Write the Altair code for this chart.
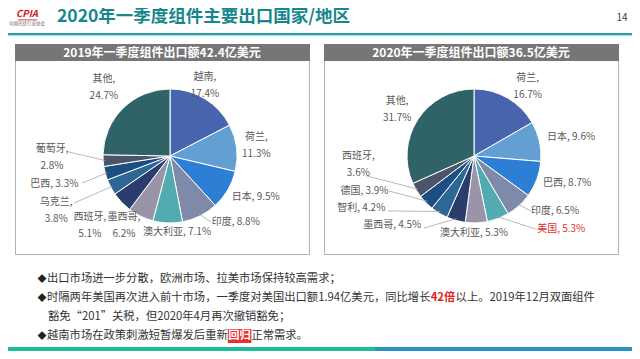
import altair as alt
import pandas as pd

# ---------------- data ----------------
PAGE_TITLE = "2020年一季度组件主要出口国家/地区"
PAGE_NUMBER = "14"
LOGO_TEXT = "CPIA"
LOGO_SUB = "中国光伏行业协会"

TITLE_2019 = "2019年一季度组件出口额42.4亿美元"
NAMES_2019 = ["越南", "荷兰", "日本", "印度", "澳大利亚", "墨西哥", "西班牙", "乌克兰", "巴西", "葡萄牙", "其他"]
VALUES_2019 = [17.4, 11.3, 9.5, 8.8, 7.1, 6.2, 5.1, 3.8, 3.3, 2.8, 24.7]

TITLE_2020 = "2020年一季度组件出口额36.5亿美元"
NAMES_2020 = ["荷兰", "日本", "巴西", "印度", "美国", "澳大利亚", "墨西哥", "智利", "德国", "西班牙", "其他"]
VALUES_2020 = [16.7, 9.6, 8.7, 6.5, 5.3, 5.3, 4.5, 4.2, 3.9, 3.6, 31.7]
HIGHLIGHT_NAME = "美国"

BULLET_1 = "出口市场进一步分散，欧洲市场、拉美市场保持较高需求；"
BULLET_2A = "时隔两年美国再次进入前十市场，一季度对美国出口额1.94亿美元，同比增长"
BULLET_2B = "42倍"
BULLET_2C = "以上。2019年12月双面组件"
BULLET_2D = "豁免“201”关税，但2020年4月再次撤销豁免；"
BULLET_3A = "越南市场在政策刺激短暂爆发后重新"
BULLET_3B = "回归"
BULLET_3C = "正常需求。"

# ---------------- layout / style ----------------
OFF = 8                      # page margin: reference pixel -> chart pixel
W, H = 640 - 2 * OFF, 359 - 2 * OFF
FONT = "Noto Sans CJK SC"
PALETTE = ["#4764ad", "#649fd4", "#2c7fd5", "#7e8aa8", "#52abb0", "#9a94a8",
           "#2b3d6d", "#2d6796", "#1d4e82", "#4b5468", "#2f6367"]
PIE_RADIUS = 67
TEXT_FS = 11.3
LABEL_LH = 17


def P(v):
    return v - OFF


# label nudges: (angle offset from slice middle in degrees, distance from centre, wrap)
LAB_2019 = [(-5.1, 79, 1), (0, 87, 1), (-4.9, 95, 0), (-18.4, 93, 0), (-7.3, 76, 0), (7.8, 83, 1),
            (2.9, 106, 1), (2.3, 126, 1), (1.3, 119, 0), (3, 118, 1), (0.4, 95, 1)]
LEAD_2019 = [None, None, None, (-5.2, 77.7), None, None, None, (1.6, 106.9), (-2.2, 92), (6.2, 101.1), None]
LAB_2020 = [(7.5, 88, 1), (1.5, 99, 0), (-4.1, 97, 0), (-13.5, 98, 0), (-28.9, 114, 0), (2, 77, 0),
            (34.2, 107, 0), (34, 124, 0), (26.4, 115, 0), (26.2, 116, 1), (-1.5, 90, 1)]
LEAD_2020 = [None, None, None, (-3.7, 79.2), (-19.2, 95.8), None, (19.1, 87.7), (26.1, 102),
             (21.7, 91.9), (20, 108.9), None]

ONE = pd.DataFrame({"k": [0]})


def est_w(s, fs):
    w = 0.0
    for ch in s:
        if ord(ch) > 0x2E80 or ch in "“”":
            w += 1.0
        elif ch.isdigit():
            w += 0.56
        elif ch == ".":
            w += 0.27
        else:
            w += 0.5
    return w * fs


def rect(x1, y1, x2, y2, **kw):
    return alt.Chart(ONE).mark_rect(**kw).encode(
        x=alt.value(P(x1)), x2=alt.value(P(x2)), y=alt.value(P(y1)), y2=alt.value(P(y2)))


def text(s, x, y, **kw):
    kw.setdefault("font", FONT)
    kw.setdefault("baseline", "middle")
    return alt.Chart(ONE).mark_text(**kw).encode(
        x=alt.value(P(x)), y=alt.value(P(y)), text=alt.value(s))


def pie_layers(names, values, center, lab, lead):
    cx, cy = P(center[0]), P(center[1])
    df = pd.DataFrame({"name": names, "value": values, "idx": list(range(len(names)))})
    df["label"] = [f"{n},{chr(10) if l[2] else ' '}{v:.1f}%" for n, v, l in zip(names, values, lab)]
    df["lda"] = [l[0] for l in lab]
    df["ldr"] = [l[1] for l in lab]
    df["wrap"] = [l[2] for l in lab]
    df["eda"] = [e[0] if e else 0 for e in lead]
    df["edr"] = [e[1] if e else 0 for e in lead]
    base = alt.Chart(df)
    arcs = base.mark_arc(outerRadius=PIE_RADIUS, stroke="white", strokeWidth=1).encode(
        theta=alt.Theta("value:Q", stack=True),
        color=alt.Color("idx:N", scale=alt.Scale(domain=list(range(11)), range=PALETTE), legend=None),
        order=alt.Order("idx:Q", sort="ascending"),
        x=alt.value(cx), y=alt.value(cy),
    )
    geo = base.transform_window(
        cum="sum(value)", sort=[alt.SortField("idx", order="ascending")], frame=[None, 0]
    ).transform_joinaggregate(total="sum(value)").transform_calculate(
        mid="(datum.cum - datum.value / 2) / datum.total * 2 * PI"
    ).transform_calculate(
        lx=f"{cx} + datum.ldr * sin(datum.mid + datum.lda * PI / 180)",
        ly=f"{cy} - datum.ldr * cos(datum.mid + datum.lda * PI / 180) - datum.wrap * {LABEL_LH / 2}",
        sx=f"{cx} + {PIE_RADIUS - 2} * sin(datum.mid)",
        sy=f"{cy} - {PIE_RADIUS - 2} * cos(datum.mid)",
        ex=f"{cx} + datum.edr * sin(datum.mid + datum.eda * PI / 180)",
        ey=f"{cy} - datum.edr * cos(datum.mid + datum.eda * PI / 180)",
    )
    leaders = geo.transform_filter("datum.edr > 0").mark_rule(color="#a6a6a6", strokeWidth=0.8).encode(
        x=alt.X("sx:Q", scale=None, axis=None), y=alt.Y("sy:Q", scale=None, axis=None),
        x2="ex:Q", y2="ey:Q")
    labels = geo.mark_text(font=FONT, fontSize=10, lineBreak="\n", lineHeight=LABEL_LH,
                           baseline="middle", align="center").encode(
        x=alt.X("lx:Q", scale=None, axis=None), y=alt.Y("ly:Q", scale=None, axis=None),
        text="label:N",
        color=alt.condition(alt.datum.name == HIGHLIGHT_NAME, alt.value("#e0302c"), alt.value("#595959")))
    return [arcs, leaders, labels]


layers = []
# header
layers.append(text(LOGO_TEXT, 27, 14, fontSize=9.5, fontWeight="bold", fontStyle="italic", color="#c8161d", align="center"))
layers.append(rect(18, 19.5, 37, 20.3, color="#c8161d"))
layers.append(text(LOGO_SUB, 27, 23.5, fontSize=4.5, color="#666666", align="center"))
layers.append(text(PAGE_TITLE, 57, 17, fontSize=17.5, fontWeight="bold", color="#17878e", align="left"))
layers.append(text(PAGE_NUMBER, 622, 18, fontSize=10, color="#404040", align="center"))
layers.append(rect(0, 33, 640, 35.5, color="#2b9ea3"))
layers.append(rect(0, 35.5, 640, 36.5, color="#d2f1f4"))

# boxes
for (x1, x2, ttl) in [(15, 309, TITLE_2019), (324, 618, TITLE_2020)]:
    layers.append(rect(x1 + 0.5, 44.5, x2 + 0.5, 254.5, fillOpacity=0, stroke="#aab4b8", strokeWidth=1))
    layers.append(rect(x1, 44, x2 + 1, 61, color="#767676"))
    layers.append(text(ttl, (x1 + x2) / 2, 52.5, fontSize=12, fontWeight="bold", color="white", align="center"))

layers += pie_layers(NAMES_2019, VALUES_2019, (170, 156), LAB_2019, LEAD_2019)
layers += pie_layers(NAMES_2020, VALUES_2020, (474, 156), LAB_2020, LEAD_2020)

# bullets
TX = 47
BX = 42
for y in (279, 298, 336):
    layers.append(text("◆", BX, y, fontSize=9, color="#222222", align="center"))
layers.append(text(BULLET_1, TX, 279, fontSize=TEXT_FS, color="#333333", align="left"))
x = TX
layers.append(text(BULLET_2A, x, 298, fontSize=TEXT_FS, color="#333333", align="left"))
x += est_w(BULLET_2A, TEXT_FS)
layers.append(text(BULLET_2B, x, 298, fontSize=TEXT_FS, fontWeight="bold", color="#e02420", align="left"))
x += est_w(BULLET_2B, TEXT_FS) + 1
layers.append(text(BULLET_2C, x, 298, fontSize=TEXT_FS, color="#333333", align="left"))
layers.append(text(BULLET_2D, TX + 1, 317, fontSize=TEXT_FS, color="#333333", align="left"))
x = TX
layers.append(text(BULLET_3A, x, 336, fontSize=TEXT_FS, color="#333333", align="left"))
x += est_w(BULLET_3A, TEXT_FS)
wb = est_w(BULLET_3B, TEXT_FS)
layers.append(rect(x, 329, x + wb + 1, 343, color="#e8312f"))
layers.append(text(BULLET_3B, x + 0.5, 336, fontSize=TEXT_FS, fontWeight="bold", color="white", align="left"))
x += wb + 1
layers.append(text(BULLET_3C, x, 336, fontSize=TEXT_FS, color="#333333", align="left"))

# bottom band (kept inside the drawable area)
layers.append(rect(0, 347, 375, 351, color="#1ebc99"))
layers.append(rect(375, 347, 640, 351, color="#2a93c1"))

chart = alt.layer(*layers).properties(
    width=W, height=H, padding=0, autosize=alt.AutoSizeParams(type="none"), background="white"
).configure_view(strokeWidth=0)

chart.save("out.html", embed_options={"renderer": "svg", "actions": False})
